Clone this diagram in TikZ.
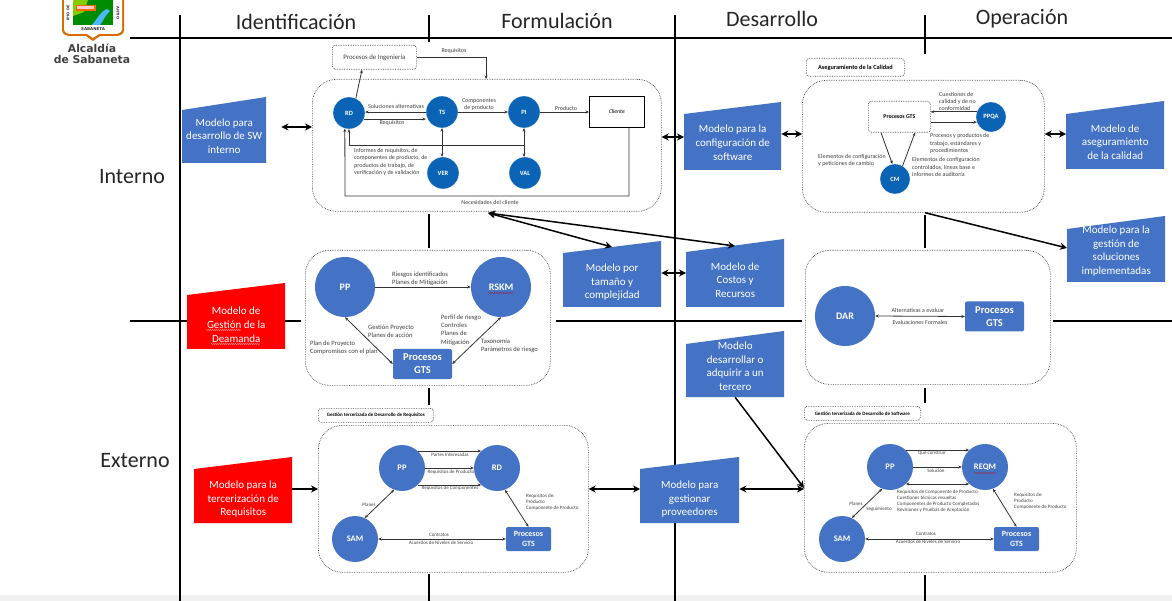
\documentclass[tikz,border=0pt]{standalone}
\usepackage{fontspec}
\setmainfont{Carlito}
\newfontfamily\logofont{DejaVu Sans}
\usetikzlibrary{arrows.meta,decorations.pathmorphing}
\definecolor{bluea}{HTML}{4472C4}
\definecolor{blueb}{HTML}{0B63B5}
\definecolor{redm}{HTML}{FF0000}
\definecolor{txt}{HTML}{404040}
\tikzset{
 x=1pt,y=-1pt,
 grid/.style={line width=1.5pt,black},
 head/.style={font=\fontsize{22}{24}\selectfont,text=black!85,inner sep=0},
 thick arrow/.style={line width=1.5pt,{Stealth[length=7pt,width=7pt]}-{Stealth[length=7pt,width=7pt]},shorten <=0pt},
 thick one/.style={line width=1.5pt,-{Stealth[length=7pt,width=7pt]}},
 thin one/.style={line width=.8pt,black!80,-{Stealth[length=3.5pt,width=3pt]}},
 thin two/.style={line width=.8pt,black!80,{Stealth[length=3.5pt,width=3pt]}-{Stealth[length=3.5pt,width=3pt]}},
 frame/.style={draw=black!75,densely dotted,line width=.7pt,fill=white,rounded corners=24pt},
 tagbox/.style={draw=black!75,densely dotted,line width=.7pt,fill=white,rounded corners=3pt,inner sep=0},
 cb/.style={circle,fill=blueb,draw=white,line width=.3pt,text=white,inner sep=0,minimum size=32pt,font=\fontsize{6.5}{7}\selectfont\bfseries},
 cc/.style={circle,fill=bluea,text=white,inner sep=0,minimum size=60pt,font=\fontsize{10}{11}\selectfont\bfseries},
 cd/.style={circle,fill=bluea,text=white,inner sep=0,minimum size=46pt,font=\fontsize{8.5}{9}\selectfont\bfseries},
 gtsl/.style={rectangle,fill=bluea,rounded corners=2pt,text=white,inner sep=0,align=center,minimum width=59pt,minimum height=30pt,font=\fontsize{10.5}{13}\selectfont\bfseries},
 gtss/.style={rectangle,fill=bluea,rounded corners=2pt,text=white,inner sep=0,align=center,minimum width=45pt,minimum height=24pt,font=\fontsize{8}{10.5}\selectfont\bfseries},
 lab/.style={inner sep=0,text=txt,align=left,font=\fontsize{6}{7.4}\selectfont},
 labs/.style={inner sep=0,text=txt,align=left,font=\fontsize{5}{6.2}\selectfont},
 labt/.style={inner sep=0,text=txt,align=left,font=\fontsize{6.6}{8.2}\selectfont},
 modtext/.style={inner sep=0,text=white,align=center,font=\fontsize{11}{13.6}\selectfont},
 squig/.style={line width=.3pt,decorate,decoration={snake,amplitude=.35pt,segment length=2pt}},
}
% name, x1, x2, yTL, yTR, yB, colour, text, downward shift of the text
\newcommand{\modelo}[9]{%
 \fill[#7] (#2,#4) -- (#3,#5) -- (#3,#6) -- (#2,#6) -- cycle;
 \node[inner sep=0,minimum width=#3pt-#2pt,minimum height=#6pt-#5pt,anchor=north west] (#1) at (#2,#5) {};
 \node[modtext] (#1t) at ([yshift=-#9pt]#1.center) {#8};
}
\begin{document}
\begin{tikzpicture}
\useasboundingbox (0,0) rectangle (1172,601);
\fill[white] (0,0) rectangle (1172,601);
\fill[black!6] (0,595) rectangle (1172,601);
% grid
\draw[grid] (130,38) -- (1172,38);
\draw[grid] (130,321) -- (301,321);
\draw[grid] (556,321) -- (802,321);
\draw[grid] (1053,321) -- (1172,321);
\draw[grid] (180,15) -- (180,601);
\draw[grid] (675,15) -- (675,601);
\draw[grid] (429,15) -- (429,42);
\draw[grid] (429,214) -- (429,248);
\draw[grid] (429,388) -- (429,405);
\draw[grid] (429,574) -- (429,601);
\draw[grid] (925,15) -- (925,54);
\draw[grid] (925,215) -- (925,248);
\draw[grid] (925,388) -- (925,403);
\draw[grid] (925,575) -- (925,601);
% headings
\node[head] (h1) at (296,22) {Identificación};
\node[head] (h2) at (557,21) {Formulación};
\node[head] (h3) at (772,19) {Desarrollo};
\node[head] (h4) at (1022,19) {Operación};
\node[head] (h5) at (132,177) {Interno};
\node[head] (h6) at (135,461) {Externo};
% logo
\path[fill=orange!85!black] (62,0) -- (124,0) -- (124,30) .. controls (124,35) and (119,36) .. (115,36) -- (100,36) -- (93,41) -- (86,36) -- (71,36) .. controls (67,36) and (62,35) .. (62,30) -- cycle;
\path[fill=white] (64,0) -- (122,0) -- (122,29) .. controls (122,33) and (118,34) .. (114,34) -- (99,34) -- (93,38) -- (87,34) -- (72,34) .. controls (68,34) and (64,33) .. (64,29) -- cycle;
\fill[green!55!black] (73,0) rectangle (113,25);
\fill[green!35!yellow!80!black] (73,0) -- (88,0) -- (84,12) -- (73,16) -- cycle;
\fill[blue!40!cyan!70!white] (92,25) .. controls (98,18) and (100,12) .. (107,9) -- (110,11) .. controls (105,15) and (104,20) .. (100,25) -- cycle;
\fill[orange!80!red] (76,5) rectangle (96,11);
\fill[white!80!red] (77,6.5) rectangle (94,9.5);
\node[inner sep=0,font=\logofont\fontsize{4}{4}\selectfont\bfseries,text=black!80] (lg1) at (93,29.5) {SABANETA};
\node[inner sep=0,rotate=-90,font=\logofont\fontsize{3.6}{4}\selectfont\bfseries,text=black!80] (lg2) at (118,13) {ANTIO};
\node[inner sep=0,rotate=90,font=\logofont\fontsize{3.6}{4}\selectfont\bfseries,text=black!80] (lg3) at (68,13) {IPIO DE};
\node[inner sep=0,align=center,font=\logofont\fontsize{10.8}{10.5}\selectfont\bfseries,text=black!75] (lg4) at (92,54) {Alcaldía\\de Sabaneta};
% boxes
\node[frame,minimum width=349pt,minimum height=132pt,inner sep=0,anchor=north west] (boxA) at (312,79) {};
\node[frame,minimum width=242pt,minimum height=132pt,inner sep=0,anchor=north west] (boxB) at (802,80) {};
\node[frame,minimum width=245pt,minimum height=135pt,inner sep=0,anchor=north west] (boxC) at (305,250) {};
\node[frame,minimum width=245pt,minimum height=134pt,inner sep=0,anchor=north west] (boxD) at (805,250) {};
\node[frame,minimum width=270pt,minimum height=147pt,inner sep=0,anchor=north west] (boxE) at (318,425) {};
\node[frame,minimum width=272pt,minimum height=149pt,inner sep=0,anchor=north west] (boxF) at (804,423) {};
% models
\modelo{m1}{182}{266}{110}{97}{163}{bluea}{Modelo para\\desarrollo de SW\\interno}{6}
\modelo{m2}{684}{781}{114}{102}{170}{bluea}{Modelo para la\\configuración de\\software}{6.5}
\modelo{m3}{1066}{1164}{114}{101}{169}{bluea}{Modelo de\\aseguramiento\\de la calidad}{7}
\modelo{m4}{1067}{1165}{229}{216}{282}{bluea}{Modelo para la\\gestión de\\soluciones\\implementadas}{2}
\modelo{m5}{563}{661}{253}{241}{307}{bluea}{Modelo por\\tamaño y\\complejidad}{8}
\modelo{m6}{686}{784}{252}{239}{307}{bluea}{Modelo de\\Costos y\\Recursos}{7}
\modelo{m7}{187}{285}{295}{283}{349}{redm}{Modelo de\\Gestión de la\\Deamanda}{8.5}
\modelo{m8}{686}{784}{344}{331}{397}{bluea}{Modelo\\desarrollar o\\adquirir a un\\tercero}{2}
\modelo{m9}{194}{292}{469}{457}{523}{redm}{Modelo para la\\tercerización de\\Requisitos}{9}
\modelo{m10}{640}{739}{469}{457}{523}{bluea}{Modelo para\\gestionar\\proveedores}{9}
\draw[white,squig] (206,330) -- (241,330);
\draw[white,squig] (211,344) -- (260,344);
% box A
\node[tagbox,minimum width=84pt,minimum height=24pt,anchor=north west,text=txt,font=\fontsize{6.8}{7}\selectfont] (ing) at (332,45) {Procesos de Ingeniería};
\node[cb] (rd) at (349,113) {RD};
\node[cb] (ts) at (442,112) {TS};
\node[cb] (pi) at (524,112) {PI};
\node[cb] (ver) at (443,173) {VER};
\node[cb] (val) at (525,173) {VAL};
\node[draw=black,line width=.6pt,fill=white,inner sep=0,minimum width=55pt,minimum height=31pt,anchor=north west,font=\fontsize{5.8}{7}\selectfont\itshape] (cli) at (589,96) {Cliente};
\draw[thin one] (rd.65) -- (ing.south west -| 362,69);
\draw[thin one] (ing.east) -| (boxA.north -| 486,79);
\draw[thin one] (ts.west) -- (rd.east |- ts.west);
\draw[thin one] (rd.-22) -- (ts.west |- rd.-22);
\draw[thin one] (ts.east) -- (pi.west);
\draw[thin one] (pi.east) -- (cli.west |- pi.east);
\draw[thin two] (ts.south) -- (ver.north -| ts.south);
\draw[thin two] (pi.south) -- (val.north -| pi.south);
\draw[thin one] (pi.south |- 0,145) -| (rd.south);
\draw[thin one] (cli.south -| 629,127) |- (345,196) -- (rd.-105);
\node[lab] (a1) at (454,51) {Requisitos};
\node[lab] (a2) at (396,106) {Soluciones alternativas};
\node[lab] (a3) at (392,122.5) {Requisitos};
\node[lab,align=center] (a4) at (479,104.5) {Componentes\\de producto};
\node[lab] (a5) at (566,108) {Producto};
\node[lab,anchor=west] (a6) at (354,162) {Informes de requisitos, de\\componentes de producto, de\\productos de trabajo, de\\verificación y de validación};
\node[lab] (a7) at (490,202) {Necesidades del cliente};
% box B
\node[tagbox,minimum width=98pt,minimum height=18pt,anchor=north west,font=\fontsize{6.3}{7}\selectfont\bfseries] (aseg) at (806,58) {Aseguramiento de la Calidad};
\node[tagbox,minimum width=62pt,minimum height=31pt,anchor=north west,font=\fontsize{5.8}{7}\selectfont\bfseries] (gtsb) at (868,101) {Procesos GTS};
\node[cb,minimum size=30pt,font=\fontsize{6.5}{7}\selectfont\bfseries] (ppqa) at (991,117) {PPQA};
\node[cb,minimum size=30pt] (cm) at (895,179) {CM};
\draw[thin one] (ppqa.160) -- (gtsb.east |- ppqa.160);
\draw[thin one] (gtsb.east |- ppqa.200) -- (ppqa.200);
\draw[thin one] (gtsb.south -| 881,132) -- (cm.100);
\draw[thin one] (cm.60) -- (gtsb.south -| 915,132);
\node[lab,anchor=west] (b1) at (939,101.5) {Cuestiones de\\calidad y de no\\conformidad};
\node[lab,anchor=west] (b2) at (930,143.5) {Procesos y productos de\\trabajo, estándares y\\procedimientos};
\node[lab,anchor=west] (b3) at (912,167) {Elementos de configuración\\controlados, líneas base e\\informes de auditoría};
\node[lab,anchor=west] (b4) at (818,160.5) {Elementos de configuración\\y peticiones de cambio};
% box C
\node[cc] (ppc) at (345,287) {PP};
\node[cc] (rskm) at (501,287) {RSKM};
\node[gtsl] (gtsc) at (422.5,364) {Procesos\\GTS};
\draw[red!80!black,squig] (488,293) -- (514,293);
\draw[thin one] (ppc.east) -- (rskm.west);
\draw[thin two] (gtsc.west) -- (ppc.south);
\draw[thin two] (gtsc.east) -- (rskm.south);
\node[labt,anchor=west] (c1) at (392,278.5) {Riesgos identificados\\Planes de Mitigación};
\node[labt,anchor=west] (c2) at (368,331) {Gestión Proyecto\\Planes de acción};
\node[labt,anchor=west] (c3) at (310,348) {Plan de Proyecto\\Compromisos con el plan};
\node[labt,anchor=west] (c4) at (441,330) {Perfil de riesgo\\Controles\\Planes de\\Mitigación};
\node[labt,anchor=west] (c5) at (481,346) {Taxonomía\\Parámetros de riesgo};
% box D
\node[cc] (dar) at (845,316) {DAR};
\node[gtsl] (gtsd) at (994.5,316.5) {Procesos\\GTS};
\draw[thin two] (dar.east) -- (gtsd.west);
\node[lab] (d1) at (918,310) {Alternativas a evaluar};
\node[lab] (d2) at (920,322) {Evaluaciones Formales};
% box E
\node[tagbox,minimum width=115pt,minimum height=14pt,anchor=north west,font=\fontsize{5}{6}\selectfont\bfseries] (tage) at (318,408) {Gestión tercerizada de Desarrollo de Requisitos};
\node[cd] (ppe) at (402,468) {PP};
\node[cd] (rde) at (497,468) {RD};
\node[cd] (same) at (355,539) {SAM};
\node[gtss] (gtse) at (528.5,539) {Procesos\\GTS};
\draw[thin one] (ppe.47) -- (rde.133);
\draw[thin one] (ppe.east) -- (rde.west);
\draw[thin one] (ppe.-47) -- (rde.-133);
\draw[thin two] (ppe.-110) -- (same.65);
\draw[thin two] (same.east) -- (gtse.west);
\draw[thin two] (rde.-70) -- (gtse.north);
\node[labs] (e1) at (450,455) {Partes Interesadas};
\node[labs] (e2) at (451,472) {Requisitos de Producto};
\node[labs] (e3) at (450,488.5) {Requisitos de Componentes};
\node[labs] (e4) at (369,504.5) {Planes};
\node[labs] (e5) at (439,534.5) {Contratos};
\node[labs] (e6) at (441,542.5) {Acuerdos de Niveles de Servicio};
\node[labs,anchor=west] (e7) at (526,502) {Requisitos de:\\Producto\\Componente de Producto};
% box F
\node[tagbox,minimum width=116pt,minimum height=14pt,anchor=north west,font=\fontsize{5}{6}\selectfont\bfseries] (tagf) at (804,406) {Gestión tercerizada de Desarrollo de Software};
\node[cd] (ppf) at (890,467) {PP};
\node[cd] (reqm) at (985,467) {REQM};
\node[cd] (samf) at (842,539) {SAM};
\node[gtss] (gtsf) at (1016.5,539) {Procesos\\GTS};
\draw[red!80!black,squig] (974,473) -- (996,473);
\draw[thin one] (ppf.47) -- (reqm.133);
\draw[thin one] (ppf.east) -- (reqm.west);
\draw[thin two] (ppf.-47) -- (reqm.-133);
\draw[thin two] (ppf.-110) -- (samf.65);
\draw[thin two] (samf.east) -- (gtsf.west);
\draw[thin two] (reqm.-70) -- (gtsf.north);
\node[labs] (f1) at (932,453) {Que construir};
\node[labs] (f2) at (936,470.5) {Solución};
\node[labs,anchor=west] (f3) at (897,501) {Requisitos de Componente de Producto\\Cuestiones técnicas resueltas\\Componentes de Producto Completados\\Revisiones y Pruebas de Aceptación};
\node[labs] (f4) at (856,504) {Planes};
\node[labs] (f5) at (879,509) {Seguimiento};
\node[labs] (f6) at (926,534) {Contratos};
\node[labs] (f7) at (928,542) {Acuerdos de Niveles de Servicio};
\node[labs,anchor=west] (f8) at (1014,501) {Requisitos de:\\Producto\\Componente de Producto};
% main connectors
\draw[thick arrow] (m1.east |- 0,127) ++(15,0) -- (boxA.west |- 0,127);
\draw[thick arrow] (boxA.east |- 0,137) -- (m2.west |- 0,137);
\draw[thick arrow] (m2.east |- 0,134) -- (boxB.west |- 0,134);
\draw[thick arrow] (boxB.east |- 0,134) -- (m3.west |- 0,134);
\draw[thick arrow] (m5.east |- 0,273) -- (m6.west |- 0,273);
\draw[thick arrow] (488,213) coordinate (n1) -- (612,247);
\draw[thick arrow] (n1) -- (735,246);
\draw[thick one] (boxB.south -| 925,214) -- (m4.west |- 0,248);
\draw[thick one] (m8.south) -- (boxF.west |- 0,488);
\draw[thick arrow] (boxE.east |- 0,489) -- (m10.west |- 0,489);
\draw[thick arrow] (m10.east |- 0,489) -- (boxF.west |- 0,489);
\draw[thick one] (m9.east |- 0,489) -- (boxE.west |- 0,489);
\end{tikzpicture}
\end{document}
